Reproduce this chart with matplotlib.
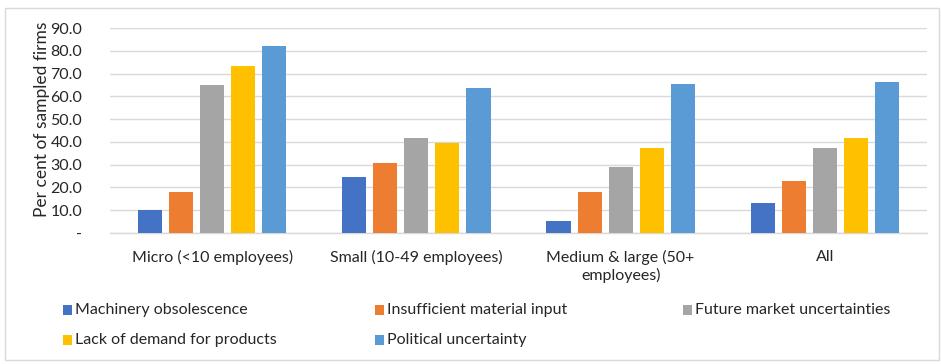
import matplotlib
matplotlib.use("Agg")
import matplotlib.pyplot as plt
from matplotlib.patches import Rectangle
import numpy as np

plt.rcParams['font.family'] = ['Lato', 'DejaVu Sans']

categories = ["Micro (<10 employees)", "Small (10-49 employees)",
              "Medium & large (50+\nemployees)", "All"]
series_names = ["Machinery obsolescence", "Insufficient material input",
                "Future market uncertainties", "Lack of demand for products",
                "Political uncertainty"]
machinery = [10.1, 24.7, 5.1, 13.2]
material = [17.8, 30.6, 18.0, 22.8]
market = [65.1, 41.7, 29.0, 37.4]
demand = [73.1, 39.6, 37.1, 41.7]
political = [81.9, 63.8, 65.4, 66.4]
colors = ["#4472C4", "#ED7D31", "#A5A5A5", "#FFC000", "#5B9BD5"]
yticks = [0, 10, 20, 30, 40, 50, 60, 70, 80, 90]
ytick_labels = ["-"] + [f"{v:.1f}" for v in yticks[1:]]

series = [machinery, material, market, demand, political]

fig = plt.figure(figsize=(9.41, 3.64), dpi=100)
ax = fig.add_axes([110/941, 1-233/364, (927-110)/941, (233-28)/364])

x = np.arange(len(categories))
step = 0.152
width = 0.118
for i, (vals, col) in enumerate(zip(series, colors)):
    ax.bar(x + (i - 2) * step, vals, width=width, color=col, zorder=3)

ax.set_xlim(-0.5, len(categories) - 0.5)
ax.set_ylim(0, 90)
ax.set_yticks(yticks)
ax.set_yticklabels(ytick_labels, fontsize=11.5, color="#262626")
ax.set_xticks(x)
ax.set_xticklabels(categories, fontsize=11.5, color="#262626", linespacing=1.3)
ax.tick_params(axis='both', length=0)
ax.tick_params(axis='y', pad=20)
ax.tick_params(axis='x', pad=12)
ax.yaxis.grid(True, color="#d9d9d9", linewidth=1.0, zorder=0)
for s in ["top", "right", "left"]:
    ax.spines[s].set_visible(False)
ax.spines["bottom"].set_color("#d9d9d9")
ax.spines["bottom"].set_linewidth(1.0)
ax.set_ylabel("Per cent of sampled firms", fontsize=12.5, color="#262626")
ax.yaxis.set_label_coords(-0.073, 0.556)

# legend entries laid out in a fixed three-column grid
col_x = [63, 375, 683]
row_y = [310, 340]
for i, (name, col) in enumerate(zip(series_names, colors)):
    px = col_x[i % 3]
    py = row_y[i // 3]
    fig.patches.append(Rectangle((px / 941, (364 - py - 5) / 364), 9 / 941, 10 / 364,
                                 transform=fig.transFigure, facecolor=col,
                                 edgecolor='none'))
    fig.text((px + 12) / 941, (364 - py) / 364, name, fontsize=11.5,
             color="#262626", va='center', ha='left')

# chart area border
fig.patches.append(Rectangle((5 / 941, 4 / 364), 934 / 941, 352 / 364,
                             transform=fig.transFigure, facecolor='none',
                             edgecolor="#d9d9d9", linewidth=1.0))

fig.savefig("out.png", dpi=100)
